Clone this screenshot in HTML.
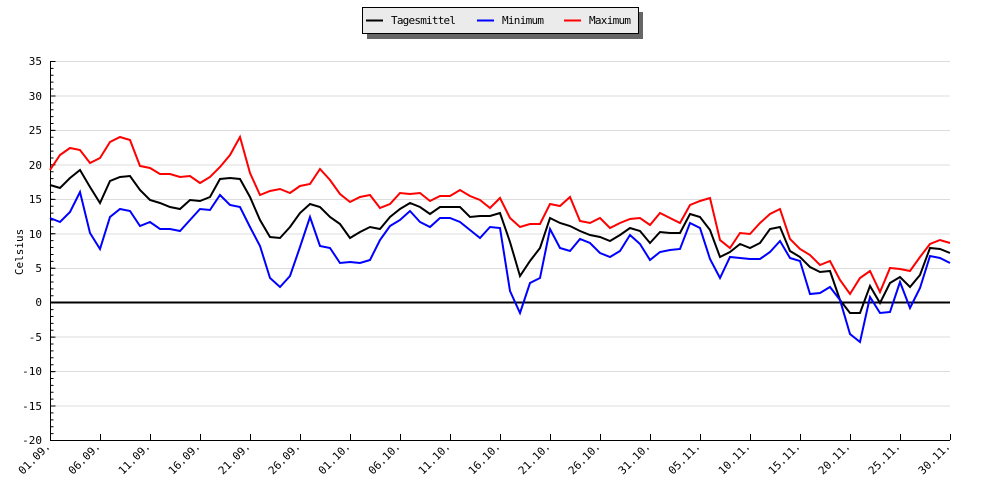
<!DOCTYPE html>
<html><head><meta charset="utf-8"><style>
body{margin:0;background:#fff}
svg{display:block}
text{font-family:"DejaVu Sans Mono","Liberation Mono",monospace;font-size:11px;fill:#000}
</style></head><body>
<svg width="1000" height="500" xmlns="http://www.w3.org/2000/svg">
<rect x="367" y="12" width="276" height="27" fill="#666"/>
<rect x="362.5" y="7.5" width="276" height="26" fill="#ebebeb" stroke="#000"/>
<line x1="366" y1="20.5" x2="383" y2="20.5" stroke="#000" stroke-width="2"/>
<text x="391" y="24" textLength="65">Tagesmittel</text>
<line x1="477" y1="20.5" x2="494" y2="20.5" stroke="#00f" stroke-width="2"/>
<text x="502" y="24" textLength="42">Minimum</text>
<line x1="564" y1="20.5" x2="581" y2="20.5" stroke="#f00" stroke-width="2"/>
<text x="589" y="24" textLength="42">Maximum</text>
<g stroke="#dcdcdc" stroke-width="1">
<line x1="50" y1="61.5" x2="950" y2="61.5"/><line x1="50" y1="96" x2="950" y2="96"/>
<line x1="50" y1="130.5" x2="950" y2="130.5"/><line x1="50" y1="165" x2="950" y2="165"/>
<line x1="50" y1="199.5" x2="950" y2="199.5"/><line x1="50" y1="234" x2="950" y2="234"/>
<line x1="50" y1="268.5" x2="950" y2="268.5"/><line x1="50" y1="337" x2="950" y2="337"/>
<line x1="50" y1="371.5" x2="950" y2="371.5"/><line x1="50" y1="406" x2="950" y2="406"/>
</g>
<line x1="50" y1="302.5" x2="950" y2="302.5" stroke="#000" stroke-width="2"/>
<g stroke="#000" stroke-width="1">
<line x1="50.5" y1="61" x2="50.5" y2="440"/>
<line x1="50" y1="440.5" x2="950" y2="440.5"/>
</g>
<line x1="52" y1="441" x2="52" y2="60" stroke="#000" stroke-width="3" stroke-dasharray="1 5.891"/>
<line x1="53" y1="441" x2="53" y2="60" stroke="#000" stroke-width="5" stroke-dasharray="1 33.455"/>
<line x1="100" y1="437" x2="951" y2="437" stroke="#000" stroke-width="6" stroke-dasharray="1 49"/>
<g text-anchor="end">
<text x="42" y="65">35</text><text x="42" y="100">30</text><text x="42" y="134">25</text>
<text x="42" y="169">20</text><text x="42" y="203">15</text><text x="42" y="238">10</text>
<text x="42" y="272">5</text><text x="42" y="306">0</text><text x="42" y="341">-5</text>
<text x="42" y="375">-10</text><text x="42" y="410">-15</text><text x="42" y="444">-20</text>
</g>
<text transform="translate(23,252) rotate(-90)" text-anchor="middle">Celsius</text>
<g text-anchor="end">
<text transform="translate(51,447) rotate(-45)">01.09.</text>
<text transform="translate(101,447) rotate(-45)">06.09.</text>
<text transform="translate(151,447) rotate(-45)">11.09.</text>
<text transform="translate(201,447) rotate(-45)">16.09.</text>
<text transform="translate(251,447) rotate(-45)">21.09.</text>
<text transform="translate(301,447) rotate(-45)">26.09.</text>
<text transform="translate(351,447) rotate(-45)">01.10.</text>
<text transform="translate(401,447) rotate(-45)">06.10.</text>
<text transform="translate(451,447) rotate(-45)">11.10.</text>
<text transform="translate(501,447) rotate(-45)">16.10.</text>
<text transform="translate(551,447) rotate(-45)">21.10.</text>
<text transform="translate(601,447) rotate(-45)">26.10.</text>
<text transform="translate(651,447) rotate(-45)">31.10.</text>
<text transform="translate(701,447) rotate(-45)">05.11.</text>
<text transform="translate(751,447) rotate(-45)">10.11.</text>
<text transform="translate(801,447) rotate(-45)">15.11.</text>
<text transform="translate(851,447) rotate(-45)">20.11.</text>
<text transform="translate(901,447) rotate(-45)">25.11.</text>
<text transform="translate(951,447) rotate(-45)">30.11.</text>
</g>
<polyline fill="none" stroke="#f00" stroke-width="2" points="50,170 60,155 70,148 80,150 90,163 100,158 110,142 120,137 130,140 140,166 150,168 160,174 170,174 180,177 190,176 200,183 210,177 220,167 230,155 240,137 250,173 260,195 270,191 280,189 290,193 300,186 310,184 320,169 330,180 340,194 350,202 360,197 370,195 380,208 390,204 400,193 410,194 420,193 430,201 440,196 450,196 460,190 470,196 480,200 490,208 500,198 510,218 520,227 530,224 540,224 550,204 560,206 570,197 580,221 590,223 600,218 610,228 620,223 630,219 640,218 650,225 660,213 670,218 680,223 690,205 700,201 710,198 720,240 730,248 740,233 750,234 760,223 770,214 780,209 790,239 800,249 810,255 820,265 830,261 840,280 850,294 860,278 870,271 880,292 890,268 900,269 910,271 920,257 930,244 940,240 950,243"/>
<polyline fill="none" stroke="#000" stroke-width="2" points="50,185 60,188 70,178 80,170 90,187 100,203 110,181 120,177 130,176 140,190 150,200 160,203 170,207 180,209 190,200 200,201 210,197 220,179 230,178 240,179 250,197 260,220 270,237 280,238 290,227 300,213 310,204 320,207 330,217 340,224 350,238 360,232 370,227 380,229 390,217 400,209 410,203 420,207 430,214 440,207 450,207 460,207 470,217 480,216 490,216 500,213 510,242 520,276 530,261 540,248 550,218 560,223 570,226 580,231 590,235 600,237 610,241 620,235 630,228 640,231 650,243 660,232 670,233 680,233 690,214 700,217 710,230 720,257 730,252 740,244 750,248 760,243 770,229 780,227 790,251 800,257 810,267 820,272 830,271 840,300 850,313 860,313 870,286 880,303 890,283 900,277 910,287 920,275 930,248 940,249 950,253"/>
<polyline fill="none" stroke="#00f" stroke-width="2" points="50,218 60,222 70,212 80,192 90,233 100,249 110,217 120,209 130,211 140,226 150,222 160,229 170,229 180,231 190,220 200,209 210,210 220,195 230,205 240,207 250,227 260,246 270,278 280,287 290,276 300,247 310,217 320,246 330,248 340,263 350,262 360,263 370,260 380,240 390,226 400,220 410,211 420,222 430,227 440,218 450,218 460,222 470,230 480,238 490,227 500,228 510,291 520,313 530,283 540,278 550,229 560,248 570,251 580,239 590,243 600,253 610,257 620,251 630,235 640,244 650,260 660,252 670,250 680,249 690,223 700,228 710,259 720,278 730,257 740,258 750,259 760,259 770,252 780,241 790,258 800,261 810,294 820,293 830,287 840,300 850,334 860,342 870,297 880,313 890,312 900,282 910,308 920,288 930,256 940,258 950,263"/>
</svg>
</body></html>
